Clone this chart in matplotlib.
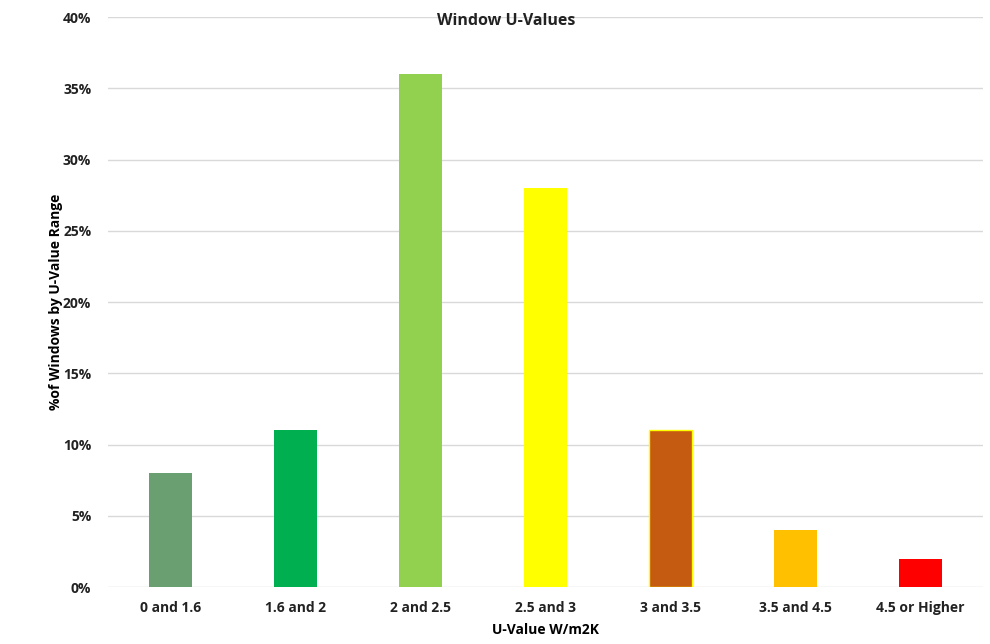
import numpy as np
import matplotlib
matplotlib.use("Agg")
from matplotlib import pyplot as plt
from matplotlib.ticker import PercentFormatter

categories = ["0 and 1.6", "1.6 and 2", "2 and 2.5", "2.5 and 3",
              "3 and 3.5", "3.5 and 4.5", "4.5 or Higher"]
percent = [8, 11, 36, 28, 11, 4, 2]
colors = ["#6A9F72", "#00B050", "#92D050", "#FFFF00",
          "#C55A11", "#FFC000", "#FF0000"]
edges = ["none", "none", "none", "none", "#FFFF00", "none", "none"]

plt.rcParams['font.family'] = ['Open Sans', 'DejaVu Sans']

fig = plt.figure(figsize=(9.9, 6.44), dpi=100)
ax = fig.add_axes([0.109, 0.0885, 0.884, 0.885])

x = np.arange(len(categories))
ax.bar(x, percent, width=0.35, color=colors, edgecolor=edges, linewidth=1, zorder=3)

ax.set_xlim(-0.5, len(categories) - 0.5)
ax.set_ylim(0, 40)
ax.set_yticks(np.arange(0, 41, 5))
ax.yaxis.set_major_formatter(PercentFormatter(decimals=0))
ax.set_xticks(x)
ax.set_xticklabels(categories)

for lab in ax.get_xticklabels() + ax.get_yticklabels():
    lab.set_fontweight("bold")
    lab.set_fontsize(10)
    lab.set_color("#222222")

ax.tick_params(length=0)
ax.tick_params(axis='y', pad=12)
ax.tick_params(axis='x', pad=10)
ax.grid(axis='y', color="#D9D9D9", linewidth=1, zorder=0)
for sp in ax.spines.values():
    sp.set_visible(False)

ax.set_xlabel("U-Value W/m2K", fontweight="bold", fontsize=10, labelpad=6)
ax.set_ylabel("%of Windows by U-Value Range", fontweight="bold", fontsize=10, labelpad=0)
fig.text(0.511, 0.968, "Window U-Values", ha="center", va="center",
         fontweight="bold", fontsize=11.5, color="#222222")

fig.savefig("out.png", dpi=100)
